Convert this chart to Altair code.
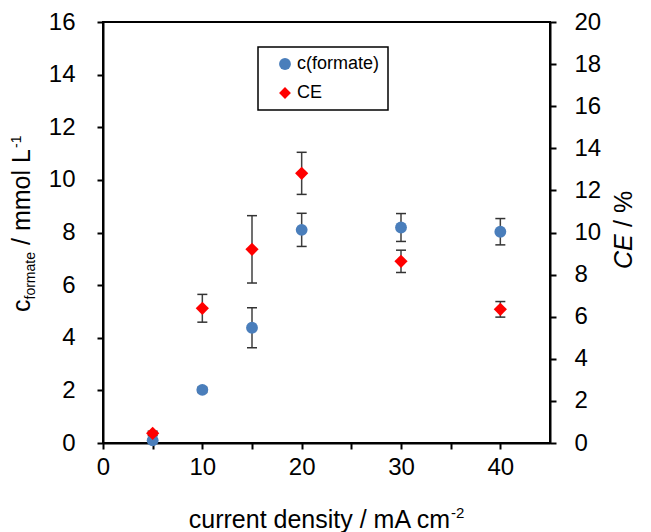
import altair as alt
import pandas as pd

# ---- data ----
current = [5, 10, 15, 20, 30, 40]                      # mA cm-2
c_formate = [0.10, 2.02, 4.38, 8.10, 8.19, 8.03]       # mmol L-1
c_err = [0.05, 0.10, 0.76, 0.63, 0.53, 0.50]
ce = [0.46, 6.40, 9.20, 12.81, 8.63, 6.35]             # %
ce_err = [0.10, 0.66, 1.60, 1.00, 0.53, 0.37]
series = ["c(formate)", "CE"]
colors = ["#4A7EBB", "#FF0000"]
shapes = ["circle", "diamond"]
x_ticks = [0, 5, 10, 15, 20, 25, 30, 35, 40]
yl_ticks = [0, 2, 4, 6, 8, 10, 12, 14, 16]
yr_ticks = [0, 2, 4, 6, 8, 10, 12, 14, 16, 18, 20]

df_c = pd.DataFrame({
    "j": current, "val": c_formate,
    "lo": [v - e for v, e in zip(c_formate, c_err)],
    "hi": [v + e for v, e in zip(c_formate, c_err)],
    "series": series[0],
})
df_ce = pd.DataFrame({
    "j": current, "val": ce,
    "lo": [v - e for v, e in zip(ce, ce_err)],
    "hi": [v + e for v, e in zip(ce, ce_err)],
    "series": series[1],
})

FONT = "Liberation Sans"

x_enc = alt.X("j:Q", scale=alt.Scale(domain=[0, 45], nice=False, zero=True),
              axis=alt.Axis(values=x_ticks, title=None, labelPadding=6,
                            labelExpr="datum.value % 10 == 0 ? datum.label : ''"))

color_enc = alt.Color("series:N", scale=alt.Scale(domain=series, range=colors), title=None)
shape_enc = alt.Shape("series:N", scale=alt.Scale(domain=series, range=shapes), title=None)


def make_group(df, domain, ticks, orient, pad, size):
    def Y(field):
        return alt.Y(f"{field}:Q",
                     scale=alt.Scale(domain=domain, nice=False, zero=True),
                     axis=alt.Axis(values=ticks, title=None, orient=orient,
                                   labelPadding=pad))
    base = alt.Chart(df)
    rule = base.mark_rule(color="#404040", strokeWidth=1.5).encode(
        x=x_enc, y=Y("lo"), y2="hi:Q")
    cap_lo = base.mark_tick(orient="horizontal", size=10, thickness=1.5,
                            color="#333333", opacity=1).encode(x=x_enc, y=Y("lo"))
    cap_hi = base.mark_tick(orient="horizontal", size=10, thickness=1.5,
                            color="#333333", opacity=1).encode(x=x_enc, y=Y("hi"))
    pts = base.mark_point(filled=True, size=size, opacity=1, strokeWidth=0).encode(
        x=x_enc, y=Y("val"), color=color_enc, shape=shape_enc)
    return alt.layer(rule, cap_lo, cap_hi, pts)


left = make_group(df_c, [0, 16], yl_ticks, "left", 22, 140)
right = make_group(df_ce, [0, 20], yr_ticks, "right", 18, 175)

one = pd.DataFrame({"a": [0]})


def label(text, x, y, size, angle=0, align="left", style="normal"):
    return alt.Chart(one).mark_text(
        text=text, angle=angle, align=align, baseline="alphabetic",
        fontSize=size, font=FONT, color="black", fontStyle=style,
    ).encode(x=alt.value(x), y=alt.value(y))


texts = [
    # left axis title: c_formate / mmol L^-1
    label("c", -73, 290, 25, angle=270),
    label("formate", -68, 277.5, 14, angle=270),
    label("/ mmol L", -73, 223, 25, angle=270),
    label("-1", -82, 126, 14, angle=270),
    # right axis title: CE / %
    label("CE", 529, 247, 25, angle=270, style="italic"),
    label("/ %", 529, 205, 25, angle=270),
    # x axis title: current density / mA cm^-2
    label("current density / mA cm", 347, 506, 25, align="right"),
    label("-2", 348, 496, 15),
]

chart = alt.layer(left, right, *texts).resolve_scale(y="independent").properties(
    width=447, height=421,
    autosize=alt.AutoSizeParams(type="none"),
    padding={"left": 95, "top": 14, "right": 90, "bottom": 89},
).configure_view(
    stroke="black", strokeWidth=2,
).configure_axis(
    grid=False, domainColor="black", domainWidth=2, tickColor="black",
    tickWidth=2, tickSize=6, labelFont=FONT, labelFontSize=24,
    labelColor="black", labelFlush=False, labelOverlap=False,
).configure_legend(
    orient="none", legendX=155, legendY=25, strokeColor="black",
    strokeWidth=1.5, fillColor="white", padding=8, symbolOffset=10,
    labelFont=FONT, labelFontSize=18, labelColor="black", rowPadding=11,
    symbolSize=140, symbolStrokeWidth=0, labelOffset=3,
)

chart.save("out.html", embed_options={"renderer": "svg", "actions": False})
